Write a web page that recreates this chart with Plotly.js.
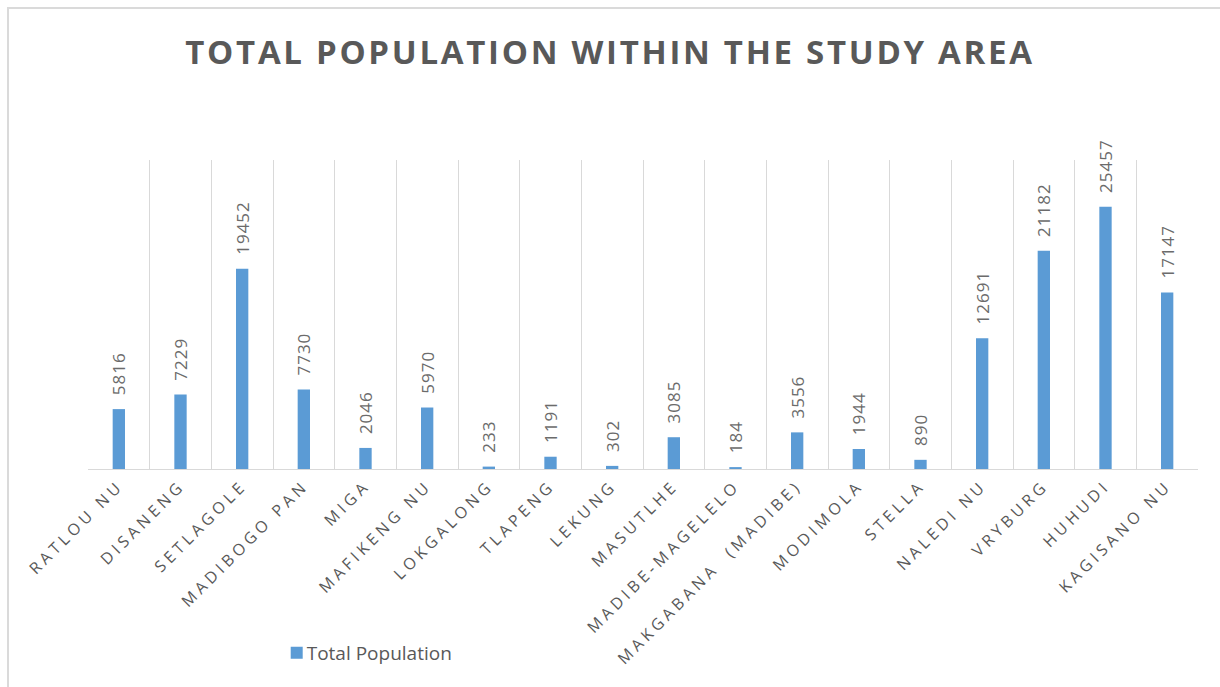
<!DOCTYPE html>
<html>
<head>
<meta charset="utf-8">
<script src="https://cdn.plot.ly/plotly-3.0.1.min.js"></script>
<style>
  html, body { margin: 0; padding: 0; background: #ffffff; }
  #wrap { position: relative; width: 1220px; height: 687px; overflow: hidden; }
  #chart { position: absolute; left: 0; top: 0; width: 1220px; height: 687px; }
  #frame { position: absolute; left: 7px; top: 7px; width: 1300px; height: 800px;
           border-left: 2px solid #dadada; border-top: 2px solid #dadada; pointer-events: none; }
  .gtitle { letter-spacing: 2.7px; }
  .xtick text { letter-spacing: 4px; }
  .bartext { letter-spacing: 1px; }
  .legendtext { transform: translateX(-10px); }
</style>
</head>
<body>
<div id="wrap">
  <div id="chart"></div>
  <div id="frame"></div>
</div>
<script>
const categories = [
  "RATLOU NU", "DISANENG", "SETLAGOLE", "MADIBOGO PAN", "MIGA", "MAFIKENG NU",
  "LOKGALONG", "TLAPENG", "LEKUNG", "MASUTLHE", "MADIBE-MAGELELO",
  "MAKGABANA  (MADIBE)", "MODIMOLA", "STELLA", "NALEDI NU", "VRYBURG", "HUHUDI", "KAGISANO NU"
];
const totalPopulation = [
  5816, 7229, 19452, 7730, 2046, 5970, 233, 1191, 302, 3085, 184,
  3556, 1944, 890, 12691, 21182, 25457, 17147
];
const seriesName = "Total Population";
const chartTitle = "TOTAL POPULATION WITHIN THE STUDY AREA";

const trace = {
  type: "bar",
  name: seriesName,
  x: categories,
  y: totalPopulation,
  text: totalPopulation.map(v => "\u00a0\u00a0" + String(v)),
  textposition: "outside",
  textangle: -90,
  constraintext: "none",
  cliponaxis: false,
  textfont: { family: "Open Sans, sans-serif", size: 17, color: "#6b6b6b" },
  marker: { color: "#5b9bd5" },
  showlegend: true,
  hoverinfo: "x+y"
};

const layout = {
  width: 1220,
  height: 687,
  paper_bgcolor: "rgba(0,0,0,0)",
  plot_bgcolor: "#ffffff",
  margin: { l: 88, r: 22, t: 160, b: 218, autoexpand: false },
  title: {
    text: chartTitle,
    font: { family: "Open Sans, sans-serif", size: 33, color: "#595959", weight: "bold" },
    x: 0.5, xanchor: "center",
    y: 1 - 52 / 687, yanchor: "middle",
    xref: "container", yref: "container"
  },
  bargap: 0.8,
  xaxis: {
    type: "category",
    tickson: "boundaries",
    showgrid: true,
    gridcolor: "#d9d9d9",
    gridwidth: 1,
    showline: true,
    linecolor: "#d9d9d9",
    linewidth: 1,
    ticks: "",
    tickangle: -45,
    tickfont: { family: "Open Sans, sans-serif", size: 16, color: "#595959" },
    automargin: false,
    zeroline: false
  },
  yaxis: {
    range: [0, 30000],
    showgrid: false,
    showticklabels: false,
    showline: false,
    zeroline: false,
    ticks: "",
    automargin: false
  },
  showlegend: true,
  legend: {
    orientation: "h",
    x: 0.170, xanchor: "left",
    y: (469 - 653) / 309, yanchor: "middle",
    font: { family: "Open Sans, sans-serif", size: 19, color: "#595959" },
    bgcolor: "rgba(0,0,0,0)"
  }
};

Plotly.newPlot("chart", [trace], layout, { displayModeBar: false, staticPlot: true });
</script>
</body>
</html>
